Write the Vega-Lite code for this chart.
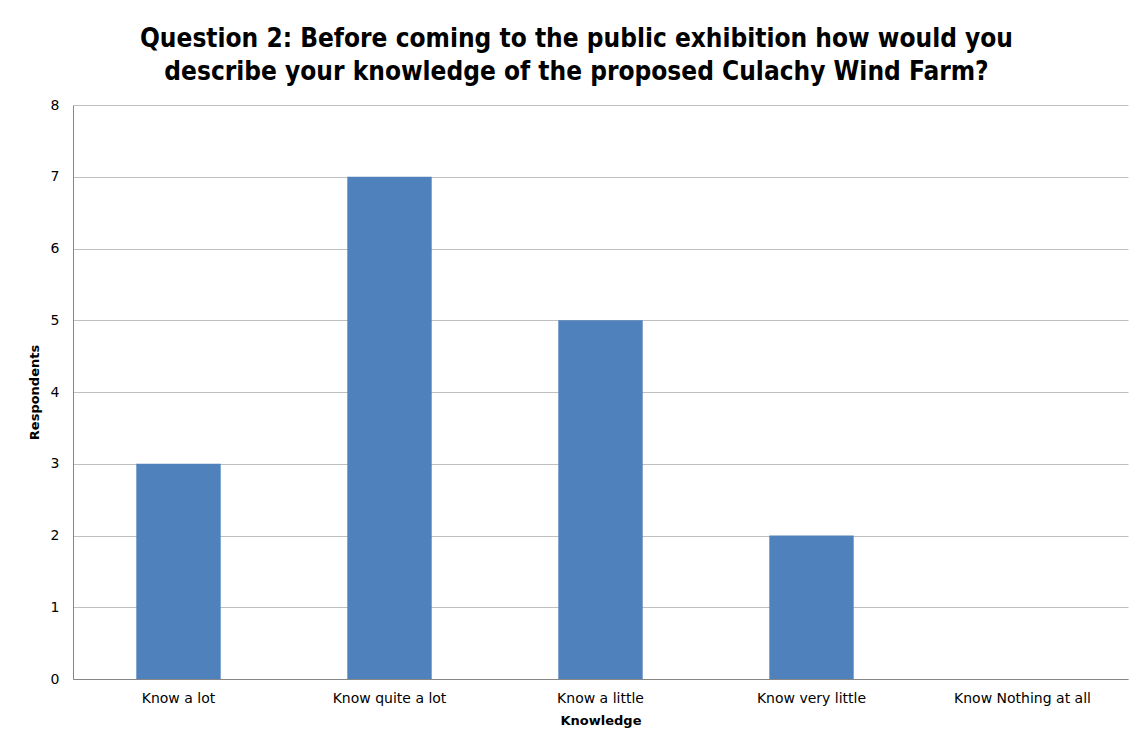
{
  "$schema": "https://vega.github.io/schema/vega-lite/v6.json",
  "width": 1055,
  "height": 574,
  "autosize": {"type": "none"},
  "padding": {"left": 73, "top": 105, "right": 9, "bottom": 63},
  "background": "white",
  "config": {
    "view": {"stroke": null},
    "font": "DejaVu Sans"
  },
  "title": {
    "text": ["Question 2: Before coming to the public exhibition how would you", "describe your knowledge of the proposed Culachy Wind Farm?"],
    "font": "DejaVu Sans Condensed",
    "fontSize": 26,
    "fontWeight": "bold",
    "color": "#000000",
    "anchor": "middle",
    "dx": -24,
    "offset": 13,
    "lineHeight": 33
  },
  "data": {
    "values": [
      {"Knowledge": "Know a lot", "Respondents": 3},
      {"Knowledge": "Know quite a lot", "Respondents": 7},
      {"Knowledge": "Know a little", "Respondents": 5},
      {"Knowledge": "Know very little", "Respondents": 2},
      {"Knowledge": "Know Nothing at all", "Respondents": 0}
    ]
  },
  "mark": {"type": "bar", "color": "#4F81BD"},
  "encoding": {
    "x": {
      "field": "Knowledge",
      "type": "nominal",
      "sort": null,
      "scale": {"paddingInner": 0.6, "paddingOuter": 0.3},
      "axis": {
        "title": "Knowledge",
        "labelAngle": 0,
        "labelFont": "DejaVu Sans",
        "labelFontSize": 14,
        "labelColor": "#000000",
        "labelPadding": 12,
        "ticks": false,
        "domainColor": "#868686",
        "titleFont": "DejaVu Sans",
        "titleFontSize": 13,
        "titleFontWeight": "bold",
        "titleColor": "#000000",
        "titlePadding": 9
      }
    },
    "y": {
      "field": "Respondents",
      "type": "quantitative",
      "scale": {"domain": [0, 8]},
      "axis": {
        "title": "Respondents",
        "values": [0, 1, 2, 3, 4, 5, 6, 7, 8],
        "labelOverlap": false,
        "ticks": false,
        "labelFont": "DejaVu Sans",
        "labelFontSize": 14,
        "labelColor": "#000000",
        "labelPadding": 14,
        "domainColor": "#868686",
        "gridColor": "#BFBFBF",
        "titleFont": "DejaVu Sans",
        "titleFontSize": 13,
        "titleFontWeight": "bold",
        "titleColor": "#000000",
        "titlePadding": 9
      }
    }
  }
}
